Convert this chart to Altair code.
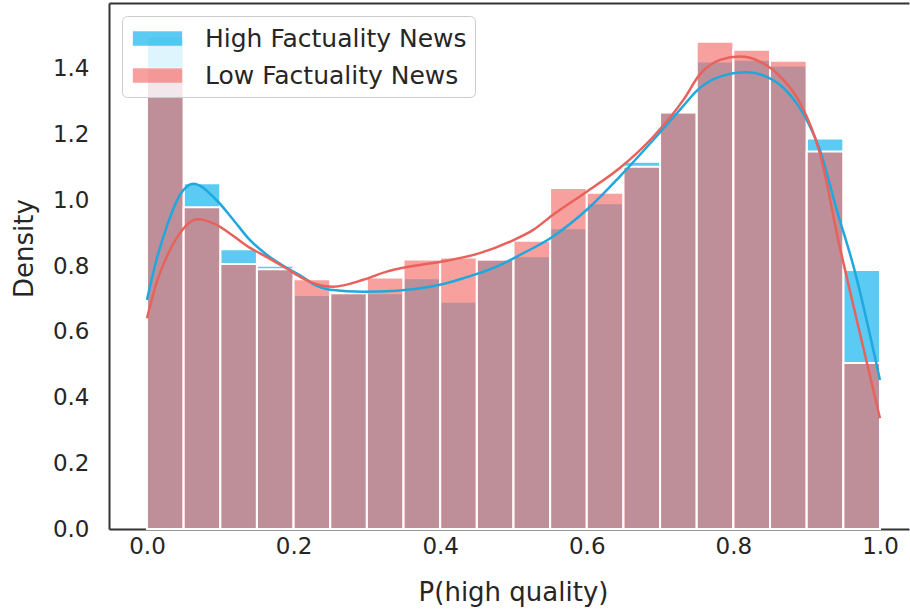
import altair as alt
import pandas as pd

# Histogram bins (density scale, 20 equal bins on [0, 1])
BIN_LO = [0.00, 0.05, 0.10, 0.15, 0.20, 0.25, 0.30, 0.35, 0.40, 0.45,
          0.50, 0.55, 0.60, 0.65, 0.70, 0.75, 0.80, 0.85, 0.90, 0.95]
BIN_HI = [0.05, 0.10, 0.15, 0.20, 0.25, 0.30, 0.35, 0.40, 0.45, 0.50,
          0.55, 0.60, 0.65, 0.70, 0.75, 0.80, 0.85, 0.90, 0.95, 1.00]

HIGH_DENSITY = [1.500, 1.052, 0.851, 0.801, 0.712, 0.717, 0.717, 0.763, 0.691, 0.818,
                0.830, 0.915, 0.991, 1.117, 1.267, 1.422, 1.427, 1.410, 1.188, 0.788]
LOW_DENSITY = [1.400, 0.979, 0.806, 0.790, 0.760, 0.717, 0.765, 0.820, 0.826, 0.820,
               0.877, 1.037, 1.023, 1.102, 1.267, 1.482, 1.458, 1.424, 1.148, 0.505]

# Kernel density estimates
HIGH_KDE_X = [0.000, 0.013, 0.027, 0.045, 0.063, 0.095, 0.118, 0.140, 0.163, 0.190,
              0.210, 0.227, 0.250, 0.295, 0.341, 0.386, 0.409, 0.432, 0.477, 0.509,
              0.554, 0.600, 0.645, 0.691, 0.727, 0.754, 0.782, 0.818, 0.845, 0.873,
              0.900, 0.918, 0.941, 0.964, 1.000]
HIGH_KDE_Y = [0.697, 0.819, 0.920, 1.016, 1.050, 1.000, 0.940, 0.880, 0.835, 0.795,
              0.770, 0.745, 0.728, 0.722, 0.725, 0.737, 0.748, 0.763, 0.798, 0.834,
              0.890, 0.971, 1.072, 1.184, 1.275, 1.341, 1.376, 1.389, 1.376, 1.331,
              1.245, 1.153, 0.971, 0.798, 0.453]

LOW_KDE_X = [0.000, 0.013, 0.027, 0.045, 0.068, 0.095, 0.118, 0.140, 0.163, 0.190,
             0.209, 0.227, 0.254, 0.295, 0.327, 0.363, 0.409, 0.454, 0.500, 0.527,
             0.554, 0.600, 0.645, 0.691, 0.732, 0.754, 0.782, 0.809, 0.836, 0.864,
             0.891, 0.918, 0.945, 0.964, 1.000]
LOW_KDE_Y = [0.641, 0.748, 0.828, 0.900, 0.942, 0.925, 0.891, 0.856, 0.828, 0.793,
             0.767, 0.748, 0.737, 0.758, 0.783, 0.800, 0.816, 0.839, 0.879, 0.910,
             0.956, 1.026, 1.098, 1.194, 1.306, 1.382, 1.427, 1.437, 1.422, 1.376,
             1.296, 1.143, 0.859, 0.677, 0.337]

SERIES = ["High Factuality News", "Low Factuality News"]
BLUE = "#05AFEC"
RED = "#F26D68"
BLUE_LINE = "#1FA8DD"
RED_LINE = "#E8625C"
TEXT = "#262626"
SPINE = "#333333"

hist = pd.concat([
    pd.DataFrame({"lo": BIN_LO, "hi": BIN_HI, "density": HIGH_DENSITY, "series": SERIES[0]}),
    pd.DataFrame({"lo": BIN_LO, "hi": BIN_HI, "density": LOW_DENSITY, "series": SERIES[1]}),
], ignore_index=True)

kde = pd.concat([
    pd.DataFrame({"x": HIGH_KDE_X, "density": HIGH_KDE_Y, "series": SERIES[0]}),
    pd.DataFrame({"x": LOW_KDE_X, "density": LOW_KDE_Y, "series": SERIES[1]}),
], ignore_index=True)

x_scale = alt.Scale(domain=[-0.0518, 1.0396], nice=False, zero=False)
y_scale = alt.Scale(domain=[0, 1.6], nice=False)

x_bottom_axis = alt.Axis(
    orient="bottom",
    values=[0.0, 0.2, 0.4, 0.6, 0.8, 1.0], format=".1f",
    title="P(high quality)", titleX=404, titleY=63,
    titleBaseline="middle", titleAlign="center",
    labelPadding=6, labelFontSize=23,
)
x_top_axis = alt.Axis(
    orient="top", labels=False, ticks=False, title=None, domain=True, grid=False,
)
y_left_axis = alt.Axis(
    orient="left",
    values=[0.0, 0.2, 0.4, 0.6, 0.8, 1.0, 1.2, 1.4], format=".1f",
    title="Density", titleX=-85, titleY=245, titleAngle=-90,
    titleBaseline="middle", titleAlign="center",
    labelPadding=20, labelFontSize=23,
)

bars = alt.Chart(hist).mark_bar(
    fillOpacity=0.65, stroke="white", strokeWidth=2
).encode(
    x=alt.X("lo:Q", scale=x_scale, axis=x_bottom_axis),
    x2="hi:Q",
    y=alt.Y("density:Q", stack=None, scale=y_scale, axis=y_left_axis),
    y2=alt.datum(0),
    color=alt.Color("series:N", scale=alt.Scale(domain=SERIES, range=[BLUE, RED]),
                    legend=alt.Legend(
                        title=None, orient="none", legendX=13, legendY=13,
                        direction="vertical",
                        symbolType="M-1.7,-0.5H1.7V0.5H-1.7Z", symbolSize=841,
                        symbolOpacity=0.65, symbolStrokeWidth=0, symbolOffset=13,
                        labelOffset=33, labelFontSize=25, labelColor=TEXT,
                        labelFont="DejaVu Sans", labelLimit=500,
                        rowPadding=9, padding=8,
                        fillColor="rgba(255,255,255,0.8)", strokeColor="#cccccc",
                        cornerRadius=5,
                    )),
)

lines = alt.Chart(kde).mark_line(strokeWidth=2.5, interpolate="monotone").encode(
    x=alt.X("x:Q", scale=x_scale, axis=x_top_axis),
    y=alt.Y("density:Q", scale=y_scale, axis=y_left_axis),
    stroke=alt.Stroke("series:N",
                      scale=alt.Scale(domain=SERIES, range=[BLUE_LINE, RED_LINE]),
                      legend=None),
)

chart = alt.layer(bars, lines).properties(
    width=800,
    height=526,
    padding={"left": 109, "top": 3, "right": 1, "bottom": 81},
    autosize=alt.AutoSizeParams(type="none"),
).configure(
    font="DejaVu Sans",
).configure_view(
    stroke=None,
).configure_axis(
    grid=False,
    ticks=False,
    domainColor=SPINE,
    domainWidth=2,
    labelColor=TEXT,
    titleColor=TEXT,
    titleFontSize=26,
    titleFontWeight="normal",
    labelFont="DejaVu Sans",
    titleFont="DejaVu Sans",
)

chart.save("out.html", embed_options={"renderer": "svg", "actions": False})
